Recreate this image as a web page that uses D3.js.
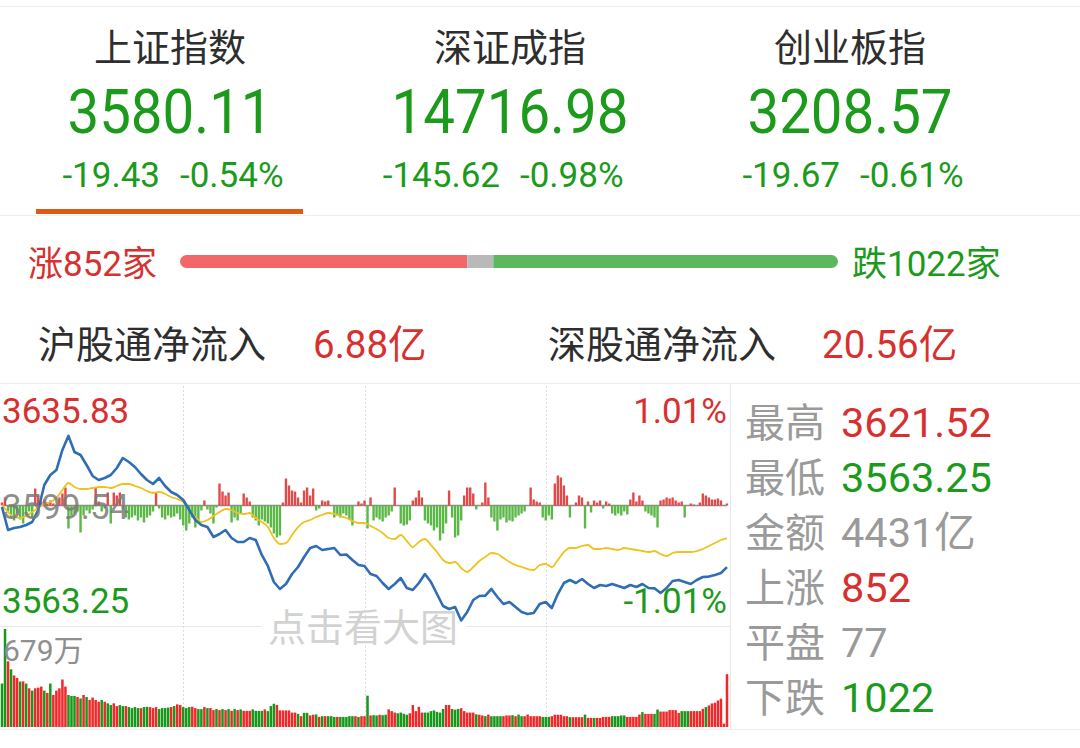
<!DOCTYPE html>
<html><head><meta charset="utf-8">
<script src="https://cdn.jsdelivr.net/npm/d3@7"></script>
<style>
body{margin:0;background:#fff}
svg{display:block}
text{font-family:Roboto,"Noto Sans CJK SC",sans-serif}
</style>
</head><body>
<svg id="c" width="1080" height="748"></svg>
<script>
// ---------- data ----------
const indexNames   = ["上证指数", "深证成指", "创业板指"];
const indexValues  = ["3580.11", "14716.98", "3208.57"];
const indexChanges = ["-19.43", "-145.62", "-19.67"];
const indexPcts    = ["-0.54%", "-0.98%", "-0.61%"];

const breadthLabels = ["涨852家", "跌1022家"];
const breadthCounts = [852, 77, 1022]; // up, flat, down

const flowLabels = ["沪股通净流入", "深股通净流入"];
const flowValues = ["6.88亿", "20.56亿"];

const statLabels = ["最高", "最低", "金额", "上涨", "平盘", "下跌"];
const statValues = ["3621.52", "3563.25", "4431亿", "852", "77", "1022"];
const statKinds  = ["up", "down", "flat", "up", "flat", "down"];

const preClose = 3599.54;
const priceMax = 3635.83;
const priceMin = 3563.25;
const pctLabels = ["1.01%", "-1.01%"];
const volMaxLabel = "679万";
const volMax = 679;

// Shanghai index, every 2 minutes (121 points, minute 0..240)
const shPrice = [
 3599.07,3591.81,3592.44,3592.75,3593.39,3594.33,3598.12,3606.01,3609.17,3610.74,
 3617.06,3621.52,3616.42,3615.48,3612.32,3608.85,3607.59,3608.22,3609.17,3611.38,
 3614.53,3613.27,3611.69,3609.48,3607.59,3606.33,3608.22,3605.69,3603.80,3602.85,
 3601.28,3598.12,3594.96,3593.39,3592.75,3589.60,3590.55,3591.81,3589.28,3588.02,
 3588.02,3589.28,3588.65,3583.92,3580.45,3575.40,3573.19,3574.77,3577.92,3580.13,
 3583.29,3586.13,3586.76,3585.50,3585.81,3586.13,3583.92,3584.10,3582.34,3580.76,
 3580.45,3577.92,3577.29,3575.08,3573.19,3574.77,3576.66,3573.50,3572.87,3575.08,
 3577.92,3575.40,3571.61,3567.82,3566.88,3567.51,3563.25,3565.93,3569.72,3570.98,
 3571.10,3573.19,3570.66,3568.45,3569.08,3567.51,3565.93,3565.30,3565.61,3568.45,
 3569.08,3567.19,3571.61,3575.08,3576.03,3575.08,3576.34,3574.77,3573.50,3574.45,
 3574.13,3574.77,3574.13,3573.50,3574.45,3573.82,3574.77,3573.50,3573.40,3571.93,
 3573.50,3575.71,3576.03,3575.40,3574.77,3576.03,3576.97,3577.10,3577.61,3578.24,
 3580.11];

// equal-weight (yellow) line, every 2 minutes
const avgPrice = [
 3599.70,3597.49,3595.91,3595.59,3596.23,3597.49,3598.75,3600.01,3600.64,3601.91,
 3604.43,3606.64,3605.38,3604.75,3604.75,3605.06,3605.38,3605.38,3605.06,3605.69,
 3606.33,3606.33,3605.69,3605.06,3604.12,3603.49,3603.80,3603.17,3602.22,3601.59,
 3600.64,3598.12,3595.91,3594.33,3594.96,3596.23,3597.49,3598.44,3598.12,3597.17,
 3596.86,3597.17,3595.59,3594.33,3592.75,3589.28,3587.39,3587.70,3590.23,3592.75,
 3594.33,3594.96,3595.91,3596.54,3597.17,3596.86,3596.23,3595.59,3594.65,3594.02,
 3594.02,3593.07,3592.12,3590.86,3589.28,3588.97,3590.23,3588.34,3586.44,3588.02,
 3588.97,3587.07,3584.86,3582.34,3581.39,3581.71,3579.81,3578.55,3580.13,3582.02,
 3583.29,3584.55,3584.23,3582.97,3581.71,3580.76,3580.13,3579.50,3579.18,3580.76,
 3581.08,3580.13,3582.34,3584.86,3586.13,3586.13,3586.76,3587.07,3585.81,3585.81,
 3586.13,3585.81,3585.50,3586.13,3585.81,3585.50,3585.18,3584.86,3585.18,3584.23,
 3583.60,3584.55,3584.86,3584.86,3584.86,3585.18,3585.81,3586.76,3587.70,3588.65,
 3589.28];

// per-minute buy/sell force bars (241 values, + red up, - green down)
const force = [
 3,8,-6,-12,-15,-8,-14,-18,-10,-6,
 -12,17,10,4,6,3,5,2,0,8,
 12,18,-23,-10,-8,-6,-27,-10,-5,-8,
 -4,18,4,-6,-3,13,-18,13,10,13,
 -4,-12,-14,-12,-10,-15,-12,-17,-12,-10,
 -6,13,-3,-12,-14,-10,-12,-11,-8,-14,
 -20,-25,-18,-12,-22,-15,-5,5,-4,-8,
 -18,-2,22,14,10,13,-17,-12,-15,-8,
 12,8,4,-12,-15,-20,-14,-16,-18,-22,
 -28,-32,-30,3,27,20,15,14,8,3,
 15,18,10,17,-5,-3,5,4,5,0,
 -12,-10,-12,-8,-10,-14,-20,0,4,2,
 5,-23,8,-15,-12,-14,-16,-12,-10,-6,
 18,0,-18,-20,-19,-15,5,8,15,8,
 -15,-18,-20,-25,-22,-35,-28,-18,15,-12,
 -32,-30,-15,10,18,18,12,-4,0,3,
 23,8,-12,-16,-25,-14,-12,-17,-15,-16,
 -12,-10,-8,-6,0,18,6,4,3,-12,
 -15,-10,-14,22,30,28,20,10,-12,0,
 3,10,8,-23,4,-7,5,3,5,-3,
 4,2,-8,-10,-8,-10,-6,-9,6,13,
 4,10,5,-6,-8,-10,-12,-22,5,6,
 8,7,8,5,3,4,-12,0,2,1,
 0,3,12,10,8,6,6,7,5,0,
 2];

// per-minute volume, 万手 (241 values)
const volume = [
 301,679,455,400,357,340,315,316,301,268,
 252,268,273,280,252,236,301,222,252,268,
 329,280,222,215,215,208,198,222,208,187,
 204,187,175,187,175,164,152,164,145,152,
 145,145,138,131,138,131,131,138,140,138,
 131,138,124,131,131,135,138,145,157,152,
 138,131,138,140,131,124,124,138,131,131,
 117,124,117,124,117,124,112,124,117,122,
 112,112,112,122,112,112,112,122,110,145,
 161,152,115,115,115,115,100,100,91,75,
 98,98,80,85,87,70,75,75,75,75,
 70,70,70,70,70,75,75,75,70,75,
 75,217,80,82,80,85,82,85,122,110,
 100,95,100,92,85,95,152,110,140,100,
 100,100,110,115,105,100,125,152,152,125,
 120,125,130,110,100,100,100,88,85,80,
 75,86,75,75,75,75,75,80,80,82,
 75,86,75,75,86,75,75,75,75,70,
 70,70,75,85,85,85,75,75,68,68,
 68,68,68,86,63,63,63,63,63,70,
 70,70,75,75,75,80,80,70,70,70,
 70,86,103,91,91,91,91,121,107,107,
 107,117,117,117,98,110,110,110,110,110,
 110,110,126,138,149,163,168,184,196,23,
 366];
// r = up minute, g = down minute
const volumeDir =
 "ggrgrrgrgr" + "grrrgrgrrr" + "rrgggrgrgr" + "rrrgrggrrg" + "grggggrggr" +
 "rrggggrgrr" + "gggrrggrgr" + "rgrgrgrgrg" + "rrrggggrgg" + "grrrrrrrgr" +
 "ggrrgrgrgg" + "grgggggrgr" + "rgrggrggrr" + "rggggrrrrr" + "gggggggrrg" +
 "ggrrrrrgrr" + "grggggrrrg" + "rggrrrrrrg" + "ggrrrrrrgr" + "rrrgrrgrrr" +
 "rrgggggrrr" + "rrgrrrggrr" + "rrrrrgggrr" + "rrrgrrrrrr" + "r";

// ---------- styles ----------
const RED = "#d8302e", GREEN = "#1b9a1b", GRAY = "#9a9a9a", DARK = "#2e2e2e";
const kindColor = {up: RED, down: GREEN, flat: GRAY};

const svg = d3.select("#c");
svg.append("rect").attr("width", 1080).attr("height", 748).attr("fill", "#fff");

function condense(sel, f) {
  sel.each(function () {
    const w = this.getComputedTextLength();
    d3.select(this).attr("textLength", w * f).attr("lengthAdjust", "spacingAndGlyphs");
  });
}

// ---------- header ----------
svg.append("line").attr("x1", 0).attr("x2", 1080).attr("y1", 6.5).attr("y2", 6.5).attr("stroke", "#eeeeee");
const centers = [170, 510, 850];
const hdr = svg.append("g");
hdr.selectAll("text.name").data(indexNames).join("text")
  .attr("x", (d, i) => centers[i]).attr("y", 61).attr("text-anchor", "middle")
  .attr("font-size", 38).attr("fill", DARK).text(d => d);
hdr.selectAll("text.val").data(indexValues).join("text")
  .attr("x", (d, i) => centers[i]).attr("y", 133).attr("text-anchor", "middle")
  .attr("font-size", 61).attr("fill", GREEN).text(d => d)
  .call(condense, 0.925);
hdr.selectAll("text.chg").data(indexChanges).join("text")
  .attr("x", (d, i) => centers[i] - 10).attr("y", 187).attr("text-anchor", "end")
  .attr("font-size", 35).attr("fill", GREEN).text(d => d);
hdr.selectAll("text.pct").data(indexPcts).join("text")
  .attr("x", (d, i) => centers[i] + 10).attr("y", 187).attr("text-anchor", "start")
  .attr("font-size", 35).attr("fill", GREEN).text(d => d);
svg.append("rect").attr("x", 36).attr("y", 209).attr("width", 267).attr("height", 5).attr("fill", "#dd5a14");
svg.append("line").attr("x1", 0).attr("x2", 1080).attr("y1", 215.5).attr("y2", 215.5).attr("stroke", "#eeeeee");

// ---------- breadth bar ----------
const bx = d3.scaleLinear().domain([0, d3.sum(breadthCounts)]).range([180, 838]);
const cum = [0, breadthCounts[0], breadthCounts[0] + breadthCounts[1], d3.sum(breadthCounts)];
const defs = svg.append("defs");
defs.append("clipPath").attr("id", "barclip").append("rect")
  .attr("x", 180).attr("y", 255).attr("width", 658).attr("height", 13).attr("rx", 6.5);
const bg = svg.append("g").attr("clip-path", "url(#barclip)");
const barCols = ["#f26767", "#b9b9b9", "#5cb85c"];
bg.selectAll("rect").data(breadthCounts).join("rect")
  .attr("x", (d, i) => bx(cum[i])).attr("width", (d, i) => bx(cum[i + 1]) - bx(cum[i]))
  .attr("y", 255).attr("height", 13).attr("fill", (d, i) => barCols[i]);
svg.append("text").attr("x", 28).attr("y", 276).attr("font-size", 35).attr("fill", RED)
  .text(breadthLabels[0]);
svg.append("text").attr("x", 852).attr("y", 276).attr("font-size", 35).attr("fill", GREEN)
  .text(breadthLabels[1]);

// ---------- northbound flows ----------
const flowX = [38, 548], flowVX = [313, 822];
svg.selectAll("text.fl").data(flowLabels).join("text")
  .attr("x", (d, i) => flowX[i]).attr("y", 358).attr("font-size", 38).attr("fill", DARK).text(d => d);
svg.selectAll("text.fv").data(flowValues).join("text")
  .attr("x", (d, i) => flowVX[i]).attr("y", 358).attr("font-size", 38.5).attr("fill", RED).text(d => d);
svg.append("line").attr("x1", 0).attr("x2", 1080).attr("y1", 383.5).attr("y2", 383.5).attr("stroke", "#eeeeee");

// ---------- intraday chart ----------
const x = d3.scaleLinear().domain([0, 240]).range([2, 727]);
const y = d3.scaleLinear().domain([priceMin, priceMax]).range([620.5, 390.5]);
const fy = d3.scaleLinear().domain([-50, 50]).range([555.5, 455.5]);
const vy = d3.scaleLinear().domain([0, volMax]).range([727, 629]);
const priceMinutes = d3.range(0, 241, 2);
const minutes = d3.range(0, 241);

const chart = svg.append("g");
// frame lines
chart.append("line").attr("x1", 730.5).attr("x2", 730.5).attr("y1", 384).attr("y2", 729).attr("stroke", "#e6e6e6");
chart.append("line").attr("x1", 0).attr("x2", 730).attr("y1", 626.5).attr("y2", 626.5).attr("stroke", "#e6e6e6");
chart.append("line").attr("x1", 0).attr("x2", 1080).attr("y1", 729.5).attr("y2", 729.5).attr("stroke", "#eeeeee");
// dotted verticals every hour
[60, 120, 180].forEach(m => {
  chart.append("line").attr("x1", Math.round(x(m)) + 0.5).attr("x2", Math.round(x(m)) + 0.5)
    .attr("y1", 386).attr("y2", 726).attr("stroke", "#dddddd").attr("stroke-dasharray", "2,2");
});

// force bars
chart.append("line").attr("x1", x(0)).attr("x2", x(240)).attr("y1", fy(0)).attr("y2", fy(0))
  .attr("stroke", "#8c8c8c").attr("stroke-width", 1.5);
chart.append("g").selectAll("rect").data(force).join("rect")
  .attr("x", (d, i) => x(minutes[i]) - 1.2).attr("width", 2.4)
  .attr("y", d => d >= 0 ? fy(d) : fy(0)).attr("height", d => Math.abs(fy(d) - fy(0)))
  .attr("fill", d => d >= 0 ? "#e24a4a" : "#5cb846");

// lines
chart.append("path").datum(avgPrice)
  .attr("d", d3.line().x((d, i) => x(priceMinutes[i])).y(d => y(d)).curve(d3.curveMonotoneX))
  .attr("fill", "none").attr("stroke", "#efc21d").attr("stroke-width", 1.8);
chart.append("path").datum(shPrice)
  .attr("d", d3.line().x((d, i) => x(priceMinutes[i])).y(d => y(d)))
  .attr("fill", "none").attr("stroke", "#2f6db5").attr("stroke-width", 2.6).attr("stroke-linejoin", "round");

// volume bars
chart.append("g").selectAll("rect").data(volume).join("rect")
  .attr("x", (d, i) => x(minutes[i]) - 1.25).attr("width", 2.5)
  .attr("y", d => vy(d)).attr("height", d => vy(0) - vy(d))
  .attr("fill", (d, i) => volumeDir[i] === "r" ? "#f0282a" : "#17981a");

// overlay text
chart.append("rect").attr("x", 262).attr("y", 622).attr("width", 204).attr("height", 24).attr("fill", "#fff");
chart.append("text").attr("x", 268).attr("y", 641).attr("font-size", 38).attr("fill", "#d2d2d2").text("点击看大图");

chart.append("text").attr("x", 2).attr("y", 423).attr("font-size", 35).attr("fill", RED).text(priceMax.toFixed(2));
chart.append("text").attr("x", 2).attr("y", 613).attr("font-size", 35).attr("fill", GREEN).text(priceMin.toFixed(2));
chart.append("text").attr("x", 727).attr("y", 423).attr("text-anchor", "end").attr("font-size", 35).attr("fill", RED).text(pctLabels[0]);
chart.append("text").attr("x", 727).attr("y", 613).attr("text-anchor", "end").attr("font-size", 35).attr("fill", GREEN).text(pctLabels[1]);
chart.append("text").attr("x", 2).attr("y", 519).attr("font-size", 35).attr("fill", "#7a7a7a").attr("fill-opacity", 0.85).text(preClose.toFixed(2));
chart.append("text").attr("x", 3).attr("y", 661).attr("font-size", 30).attr("fill", "#8f8f8f").text(volMaxLabel);

// ---------- right stats panel ----------
const rowY = d3.range(6).map(i => 437 + i * 55);
svg.selectAll("text.sl").data(statLabels).join("text")
  .attr("x", 745).attr("y", (d, i) => rowY[i]).attr("font-size", 40).attr("fill", GRAY).text(d => d);
svg.selectAll("text.sv").data(statValues).join("text")
  .attr("x", 841).attr("y", (d, i) => rowY[i]).attr("font-size", 41.5)
  .attr("fill", (d, i) => kindColor[statKinds[i]]).text(d => d);
</script>
</body></html>
